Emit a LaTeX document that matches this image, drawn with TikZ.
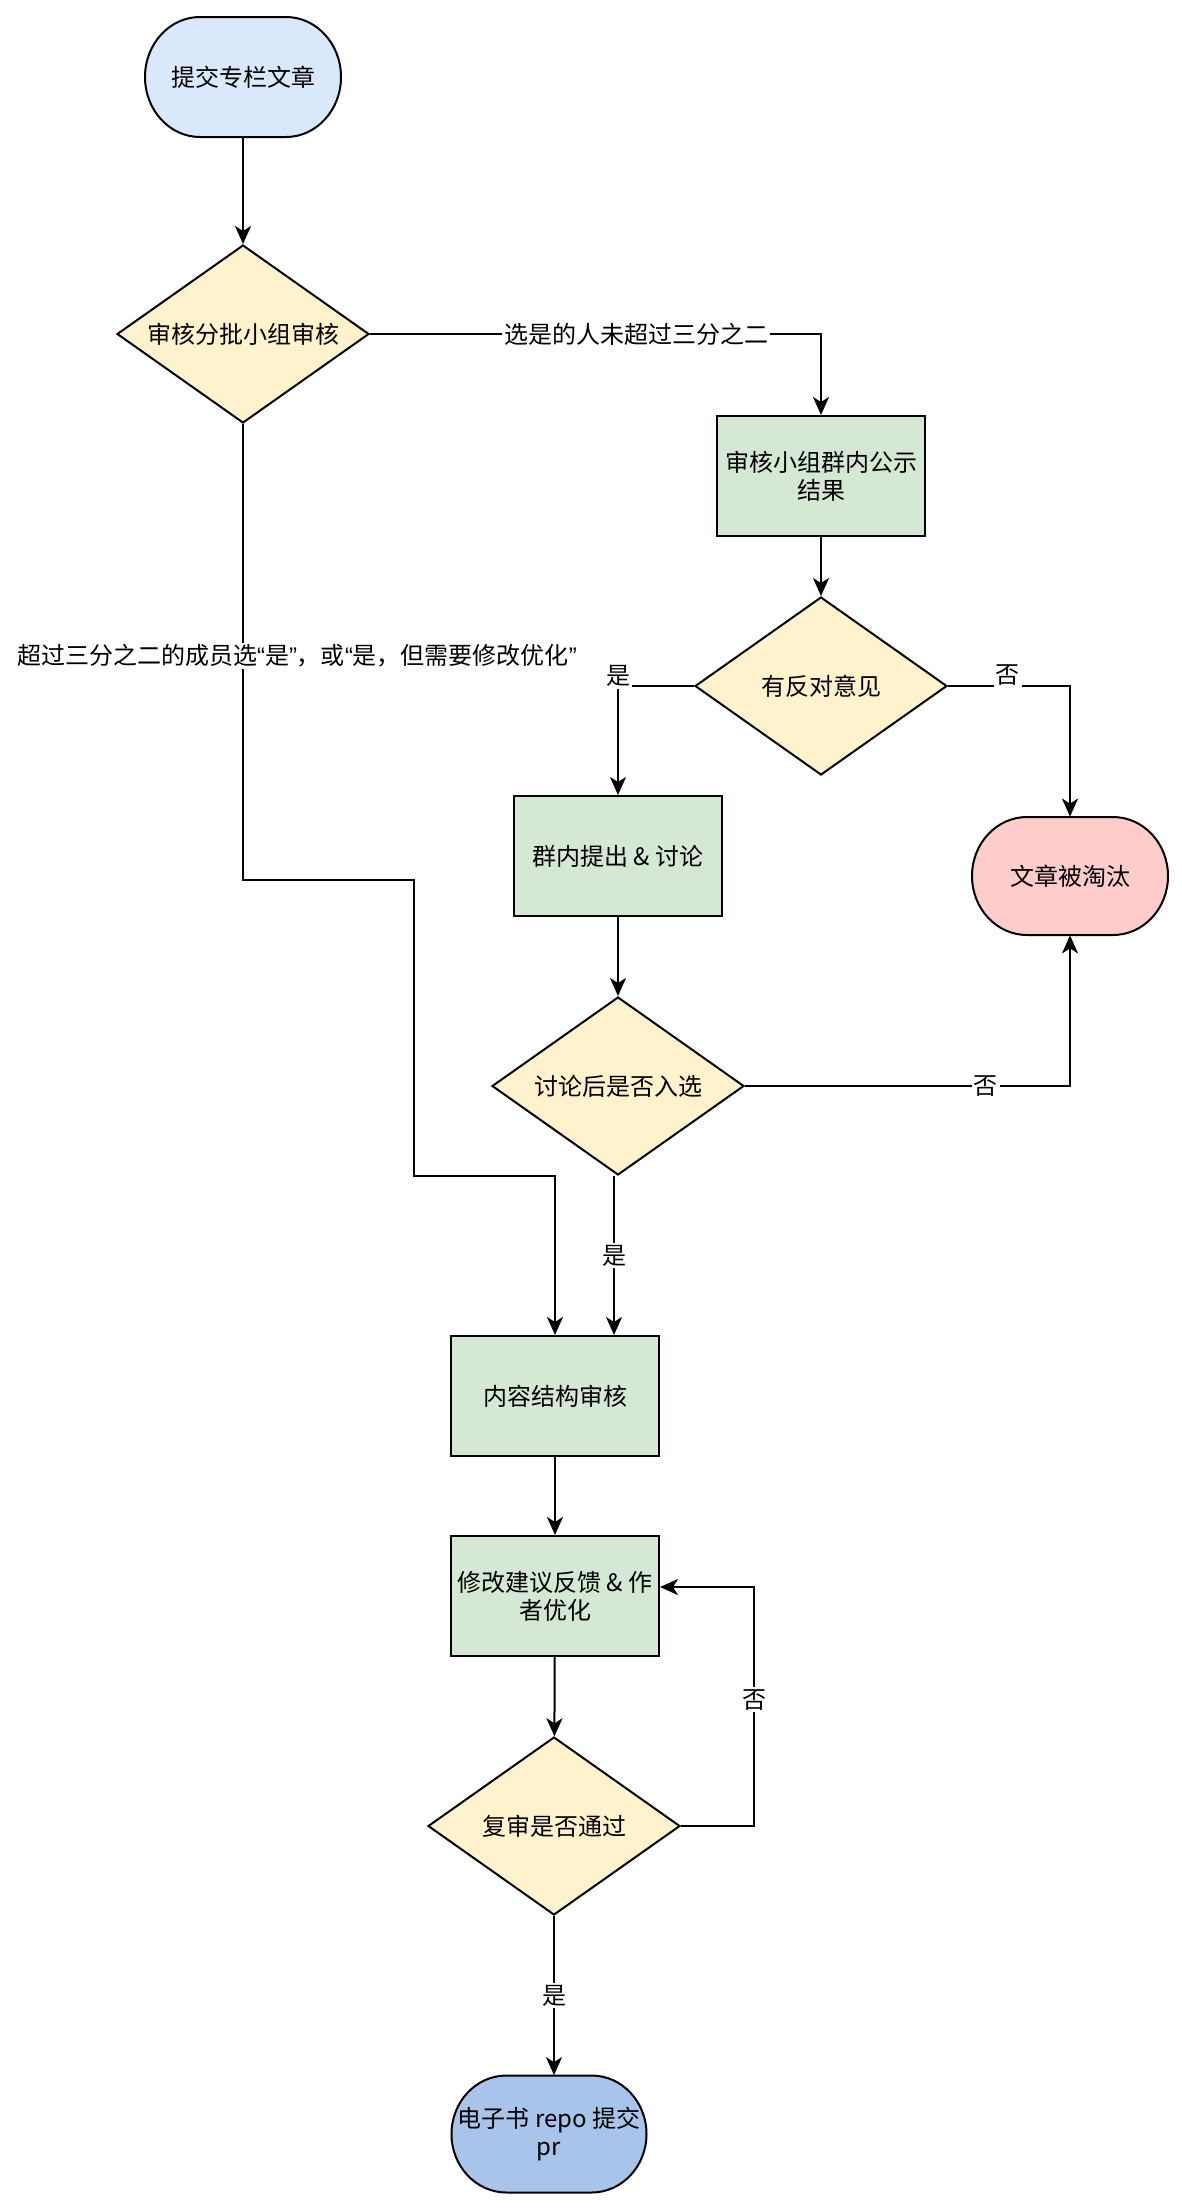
\documentclass[tikz,border=0pt]{standalone}
\usepackage{fontspec}
\setmainfont{Noto Sans CJK SC}
\newfontfamily\latinq{Liberation Sans}
\usetikzlibrary{shapes.geometric,arrows.meta,calc}
\definecolor{cblue}{HTML}{DAE8FC}
\definecolor{cyellow}{HTML}{FFF2CC}
\definecolor{cgreen}{HTML}{D5E8D4}
\definecolor{cred}{HTML}{FFCCCC}
\definecolor{cdblue}{HTML}{A9C4EB}
\newcommand\termbox[7]{%
  \draw[line width=1pt, fill=#6] ({#2-#4/2+55},{#3-#5/2}) -- ({#2+#4/2-55},{#3-#5/2})
    arc[start angle=90, end angle=-90, x radius=27.5pt, y radius={#5*0.25pt}]
    -- ({#2-#4/2+55},{#3+#5/2})
    arc[start angle=-90, end angle=-270, x radius=27.5pt, y radius={#5*0.25pt}] -- cycle;
  \node[txt, minimum width=#4*0.5pt, minimum height=#5*0.5pt] (#1) at (#2,#3) {#7};
}
\begin{document}
\begin{tikzpicture}[x=0.5pt, y=-0.5pt,
  txt/.style={font=\fontsize{12}{14}\selectfont, align=center, inner sep=0pt},
  procbox/.style={txt, draw, line width=1pt, fill=cgreen, minimum width=104pt, minimum height=60pt},
  decision/.style={txt, draw, line width=1pt, fill=cyellow, diamond, aspect=1.4, minimum width=126pt, minimum height=89pt},
  arr/.style={line width=1pt, -{Stealth[length=9pt, width=8pt, inset=2.5pt]}},
  lbl/.style={font=\fontsize{12}{14}\selectfont, fill=white, inner sep=1pt}]
\useasboundingbox (0,0) rectangle (1182,2212);
\fill[white] (0,0) rectangle (1182,2212);

\termbox{start}{243}{77}{196}{120}{cblue}{提交专栏文章}
\node[decision] (d1) at (243,334) {审核分批小组审核};
\node[procbox] (b1) at (821,476) {审核小组群内公示\\结果};
\node[decision] (d2) at (821,686) {有反对意见};
\node[procbox] (b2) at (618,856) {群内提出 \& 讨论};
\termbox{rej}{1070}{876}{196}{118}{cred}{文章被淘汰}
\node[decision] (d3) at (618,1086) {讨论后是否入选};
\node[procbox] (b3) at (555,1396) {内容结构审核};
\node[procbox] (b4) at (555,1596) {修改建议反馈 \& 作\\者优化};
\node[decision] (d4) at (554,1826) {复审是否通过};
\termbox{end}{549}{2134}{195}{117}{cdblue}{电子书 repo 提交\\pr}

\draw[arr] (start) -- (d1);
\draw[arr] (d1.east) -| node[lbl, pos=0.295] {选是的人未超过三分之二} (b1.north);
\draw[arr] (b1) -- (d2);
\draw[arr] (d2.west) -| node[lbl, pos=0.5, yshift=5pt] {是} (b2.north);
\draw[arr] (d2.east) -| node[lbl, pos=0.245, yshift=5.5pt] {否} (rej.north);
\draw[arr] (b2) -- (d3);
\draw[arr] (d3.east) -| node[lbl, pos=0.37] {否} (rej.south);
\coordinate (d3s) at ($(d3.south)+(-4,0)$);
\draw[arr] (d3s) -- node[lbl] {是} (d3s |- b3.north);
\coordinate (p1) at (243,880);
\coordinate (p2) at (414,880);
\coordinate (p3) at (414,1176);
\coordinate (p4) at (555,1176);
\draw[arr] (d1.south) -- (p1) -- (p2) -- (p3) -- (p4) -- (b3.north);
\node[lbl] (lblleft) at (297,656) {超过三分之二的成员选{\latinq “}是{\latinq ”}，或{\latinq “}是，但需要修改优化{\latinq ”}};
\draw[arr] (b3) -- (b4);
\draw[arr] (b4) -- (d4);
\coordinate (q1) at (754,1826);
\coordinate (b4in) at ($(b4.east)+(0,-9)$);
\draw[arr] (d4.east) -- (q1) |- node[lbl, pos=0.264] {否} (b4in);
\draw[arr] (d4.south) -- node[lbl] {是} (d4.south |- end.north);
\end{tikzpicture}
\end{document}
